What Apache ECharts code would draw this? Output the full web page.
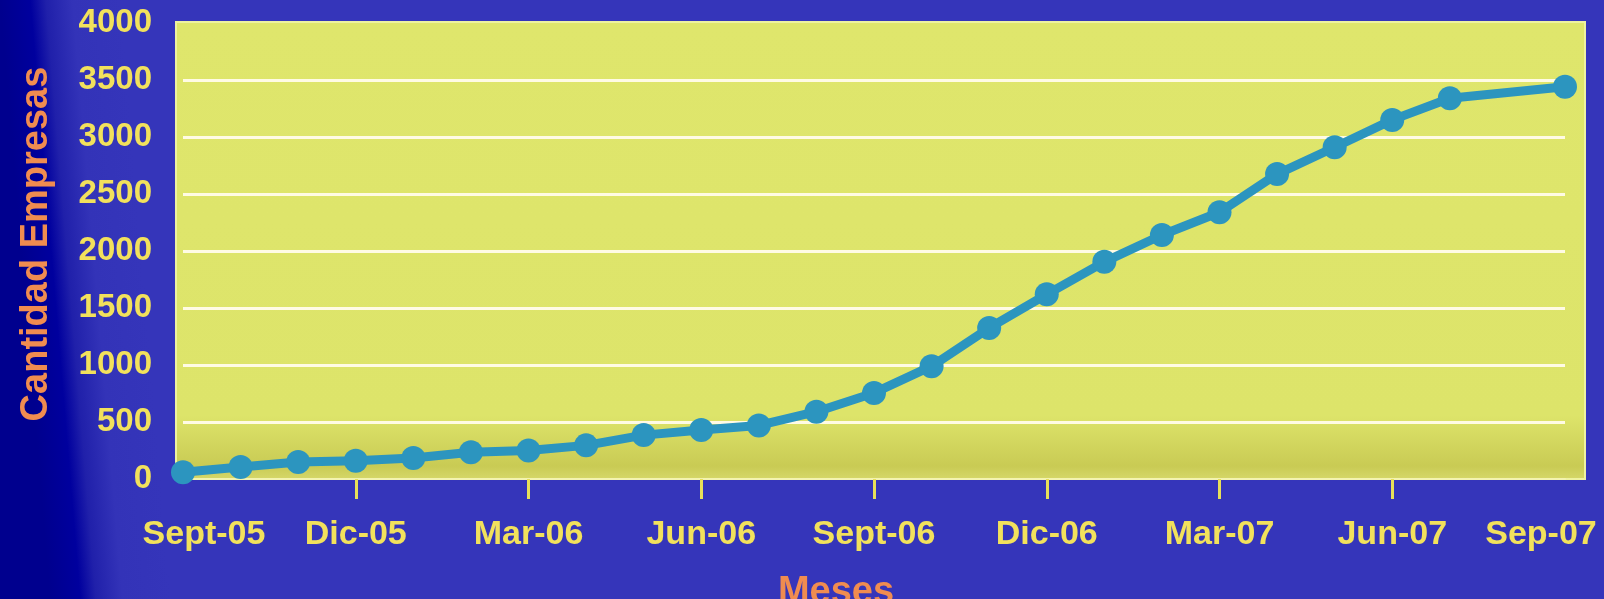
<!DOCTYPE html>
<html>
<head>
<meta charset="utf-8">
<script src="https://cdn.jsdelivr.net/npm/echarts@6/dist/echarts.min.js"></script>
<style>
  html, body { margin: 0; padding: 0; background: #3434b8; }
  #main { width: 1604px; height: 599px; }
</style>
</head>
<body>
<div id="main"></div>
<script>
// meses (ago-07 no tiene dato en el original)
var meses = ['Sept-05', 'Oct-05', 'Nov-05', 'Dic-05', 'Ene-06', 'Feb-06', 'Mar-06', 'Abr-06', 'May-06',
    'Jun-06', 'Jul-06', 'Ago-06', 'Sept-06', 'Oct-06', 'Nov-06', 'Dic-06', 'Ene-07', 'Feb-07', 'Mar-07',
    'Abr-07', 'May-07', 'Jun-07', 'Jul-07', 'Ago-07', 'Sep-07'];
var empresas = [60, 105, 150, 160, 185, 235, 250, 295, 385, 430, 470, 590, 755, 990, 1325, 1620,
    1905, 2140, 2340, 2675, 2910, 3150, 3340, null, 3440];
var yTicks = [0, 500, 1000, 1500, 2000, 2500, 3000, 3500, 4000];

var amarillo = '#f2e15c';
var naranja = '#f08c50';
var fuente = '"Liberation Sans", Arial, sans-serif';

var myChart = echarts.init(document.getElementById('main'));

myChart.setOption({
    backgroundColor: {
        type: 'linear', x: 0, y: 0, x2: 0.0748, y2: -0.0167,
        colorStops: [
            { offset: 0, color: '#00008e' },
            { offset: 0.25, color: '#00009e' },
            { offset: 0.38, color: '#2020aa' },
            { offset: 0.6, color: '#3333b8' },
            { offset: 1, color: '#3535ba' }
        ]
    },
    textStyle: { fontFamily: fuente },
    graphic: [
        {
            // fondo del area de trazado
            type: 'rect',
            z: -10,
            shape: { x: 176, y: 22, width: 1409, height: 457 },
            style: {
                fill: {
                    type: 'linear', x: 0, y: 0, x2: 0, y2: 1,
                    colorStops: [
                        { offset: 0, color: '#dfe66c' },
                        { offset: 0.86, color: '#dde46a' },
                        { offset: 0.97, color: '#c9cb54' },
                        { offset: 1, color: '#d6d86a' }
                    ]
                },
                stroke: '#eef2a0',
                lineWidth: 2
            }
        }
    ],
    grid: { left: 183, right: 39, top: 23, bottom: 120, containLabel: false, outerBoundsMode: 'none' },
    xAxis: {
        type: 'category',
        boundaryGap: false,
        data: meses,
        name: 'Meses',
        nameLocation: 'middle',
        nameGap: 95,
        nameTextStyle: { color: naranja, fontSize: 38, fontWeight: 'bold', padding: [0, 76, 0, 0] },
        axisLine: { show: true, lineStyle: { color: '#f3f3b0', width: 2 } },
        axisTick: {
            show: true,
            interval: function (i) { return i % 3 === 0 && i > 0 && i < meses.length - 1; },
            length: 20,
            lineStyle: { color: '#e8e05a', width: 3 }
        },
        axisLabel: {
            interval: 2,
            margin: 39,
            color: amarillo,
            fontSize: 34,
            fontWeight: 'bold',
            formatter: function (v, i) {
                if (i === 0) return '{first|' + v + '}';
                if (i === meses.length - 1) return '{last|' + v + '}';
                return v;
            },
            rich: {
                first: { color: amarillo, fontSize: 34, fontWeight: 'bold', padding: [0, 0, 0, 42] },
                last: { color: amarillo, fontSize: 34, fontWeight: 'bold', padding: [0, 48, 0, 0] }
            }
        },
        splitLine: { show: false }
    },
    yAxis: {
        type: 'value',
        min: yTicks[0],
        max: yTicks[yTicks.length - 1],
        interval: 500,
        name: 'Cantidad Empresas',
        nameLocation: 'middle',
        nameGap: 113,
        nameTextStyle: { color: naranja, fontSize: 38, fontWeight: 'bold', padding: [0, 0, 14, 14] },
        axisLine: { show: false },
        axisTick: { show: false },
        axisLabel: {
            margin: 31, color: amarillo, fontSize: 33, fontWeight: 'bold',
            formatter: function (v) { return String(v); }
        },
        splitLine: { showMinLine: false, showMaxLine: false, lineStyle: { color: '#fffbe4', width: 3 } }
    },
    series: [
        {
            name: 'Empresas',
            type: 'line',
            data: empresas,
            connectNulls: true,
            symbol: 'circle',
            symbolSize: 24,
            lineStyle: { color: '#2c95bf', width: 9 },
            itemStyle: { color: '#2c95bf' },
            z: 5
        }
    ]
});
</script>
</body>
</html>
